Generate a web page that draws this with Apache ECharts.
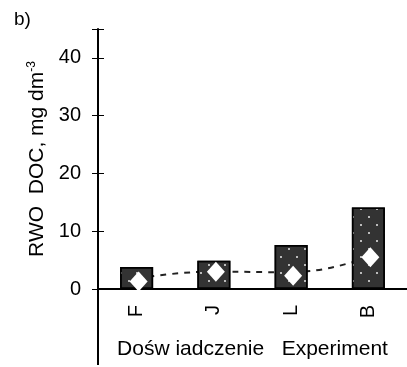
<!DOCTYPE html>
<html><head><meta charset="utf-8">
<script src="https://cdn.jsdelivr.net/npm/echarts@6/dist/echarts.min.js"></script>
<style>html,body{margin:0;padding:0;background:#fff}#c{width:407px;height:367px}</style>
</head><body><div id="c"></div>
<script>
const categories = ['F', 'J', 'L', 'B'];
const barValues = [3.8, 4.9, 7.6, 14.1];
const diamondValues = [1.3, 3.0, 2.3, 5.5];
const trendValues = [1.8, 3.0, 2.9, 5.6];
const yTicks = [0, 10, 20, 30, 40];

const FONT = 'Liberation Sans, Arial, sans-serif';
const chart = echarts.init(document.getElementById('c'), null, {renderer: 'canvas'});
const option = {
  animation: false,
  backgroundColor: '#fff',
  title: {text: 'b)', left: 9, top: 5, textStyle: {fontFamily: FONT, fontSize: 19, fontWeight: 'normal', color: '#000'}},
  grid: {left: 98, top: 29, width: 312, height: 260, containLabel: false},
  xAxis: [{
    type: 'category', data: categories, position: 'bottom',
    axisLine: {lineStyle: {color: '#000', width: 2}},
    axisTick: {show: false},
    axisLabel: {rotate: 90, margin: 16, fontFamily: FONT, fontSize: 20, color: '#000'},
    name: 'Dośw iadczenie   Experiment', nameLocation: 'middle', nameGap: 50,
    nameTextStyle: {fontFamily: FONT, fontSize: 21, color: '#000'}
  }, {
    type: 'category', data: categories, position: 'top',
    axisLine: {lineStyle: {color: '#000', width: 2}},
    axisTick: {show: false}, axisLabel: {show: false}
  }],
  yAxis: [{
    type: 'value', min: 0, max: 45, interval: 10,
    axisLine: {show: true, lineStyle: {color: '#000', width: 2}},
    axisTick: {show: true, length: 6, lineStyle: {color: '#000', width: 1}},
    splitLine: {show: false},
    axisLabel: {margin: 17, fontFamily: FONT, fontSize: 20, color: '#000',
      formatter: v => yTicks.includes(v) ? String(v) : ''},
    name: '{a|RWO  DOC, mg dm}{s|-3}', nameLocation: 'middle', nameGap: 50, nameRotate: 90,
    nameTextStyle: {fontFamily: FONT, fontSize: 21, color: '#000',
      rich: {a: {fontFamily: FONT, fontSize: 21, color: '#000'},
             s: {fontFamily: FONT, fontSize: 12, color: '#000', verticalAlign: 'top', padding: [0,0,10,0]}}}
  }, {
    type: 'value', min: 0, max: 45, interval: 10, position: 'left',
    axisLine: {show: false},
    axisTick: {show: true, inside: true, length: 6, lineStyle: {color: '#000', width: 1}},
    axisLabel: {show: false}, splitLine: {show: false}
  }],
  series: [{
    type: 'line', data: trendValues, smooth: true, symbol: 'none', z: 1,
    lineStyle: {color: '#222', width: 2, type: [6, 6]}
  }, {
    type: 'bar', data: barValues, barWidth: 33, z: 2,
    itemStyle: {color: '#333', borderColor: '#000', borderWidth: 1.5,
      decal: {symbol: 'rect', symbolSize: 1, color: '#bbb',
        dashArrayX: [[2, 14], [0, 8, 2, 6]], dashArrayY: [2, 6], rotation: 0}}
  }, {
    type: 'scatter', data: diamondValues, symbol: 'diamond', symbolSize: [18, 20], z: 3,
    symbolOffset: [2, 0],
    itemStyle: {color: '#fff', borderWidth: 0, opacity: 1}
  }]
};
chart.setOption(option);
const gridRect = chart.getModel().getComponent('grid', 0).coordinateSystem.getRect();
chart.setOption({graphic: [{type: 'line', z: 10,
  shape: {x1: gridRect.x, y1: gridRect.y + gridRect.height, x2: gridRect.x, y2: gridRect.y + gridRect.height + 76},
  style: {stroke: '#000', lineWidth: 2}}]});
</script></body></html>
